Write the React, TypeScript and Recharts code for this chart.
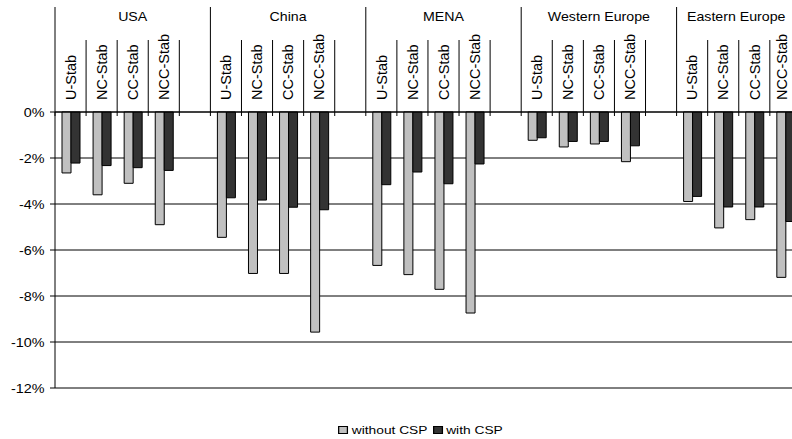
import React from "react"
import { BarChart, Bar, XAxis, YAxis, CartesianGrid, Legend } from "recharts"

const regions = ["USA", "China", "MENA", "Western Europe", "Eastern Europe"]
const scenarios = ["U-Stab", "NC-Stab", "CC-Stab", "NCC-Stab"]

// change in value (%), one row per region, in scenario order
const withoutCsp = [
  [-2.65, -3.6, -3.1, -4.9],
  [-5.45, -7.02, -7.02, -9.57],
  [-6.67, -7.07, -7.71, -8.74],
  [-1.23, -1.52, -1.39, -2.16],
  [-3.89, -5.04, -4.68, -7.19],
]
const withCsp = [
  [-2.22, -2.33, -2.42, -2.54],
  [-3.73, -3.83, -4.14, -4.25],
  [-3.16, -2.61, -3.12, -2.26],
  [-1.12, -1.28, -1.28, -1.47],
  [-3.67, -4.13, -4.13, -4.76],
]
const yTicks = [0, -2, -4, -6, -8, -10, -12]

const series = [
  { key: "without", name: "without CSP", color: "#C0C0C0" },
  { key: "with", name: "with CSP", color: "#333333" },
]

const FONT = "'Liberation Sans', Arial, sans-serif"
const CHART_W = 840
const CHART_H = 439
const Y_AXIS_W = 55
const RIGHT = 8
const AXIS_Y = 112
const VIEW_EDGE = 788
const SLOTS = regions.length * (scenarios.length + 1)
const SLOT_W = (CHART_W - Y_AXIS_W - RIGHT) / SLOTS

// each region gets its four scenarios plus an empty slot
const data = regions.flatMap((region, gi) => [
  ...scenarios.map((scenario, si) => ({
    key: `${region}|${scenario}`,
    region,
    scenario,
    without: withoutCsp[gi][si],
    with: withCsp[gi][si],
  })),
  { key: `${region}|`, region, scenario: "", without: null, with: null },
])

const CategoryTick = ({ x, payload }: any) => {
  const i = payload.index
  const row = data[i]
  if (!row) return null
  const left = x - SLOT_W / 2
  const first = i % (scenarios.length + 1) === 0
  let labelX = left + (SLOT_W * (scenarios.length + 1)) / 2
  const approx = row.region.length * 7.4
  if (labelX + approx / 2 > VIEW_EDGE) labelX = VIEW_EDGE - approx / 2
  // keep the last rotated label inside the visible page
  const textX = Math.min(x + 5.2, VIEW_EDGE - 1)
  return (
    <g>
      <line x1={left} x2={left} y1={first ? 7 : 40} y2={AXIS_Y + 4} stroke="#000" />
      {first && (
        <text
          transform={`translate(${labelX},21) scale(1.05,1)`}
          textAnchor="middle"
          fontFamily={FONT}
          fontSize={13.5}
          fill="#000"
        >
          {row.region}
        </text>
      )}
      {row.scenario && (
        <text
          transform={`translate(${textX},100) rotate(-90)`}
          textAnchor="start"
          fontFamily={FONT}
          fontSize={14.5}
          fill="#000"
        >
          {row.scenario}
        </text>
      )}
    </g>
  )
}

const ValueTick = ({ y, payload }: any) => (
  <text
    transform={`translate(44.5,${y + 4.5}) scale(1.15,1)`}
    textAnchor="end"
    fontFamily={FONT}
    fontSize={12.5}
    fill="#000"
  >
    {`${payload.value}%`}
  </text>
)

const LegendContent = () => (
  <div
    style={{
      height: 51,
      display: "flex",
      justifyContent: "center",
      alignItems: "flex-end",
      paddingLeft: 14,
      paddingBottom: 3,
      boxSizing: "border-box",
    }}
  >
    <div
      style={{
        display: "flex",
        alignItems: "center",
        fontFamily: FONT,
        fontSize: 11,
        transform: "scale(1.25,1)",
      }}
    >
      {series.map((s) => (
        <span key={s.key} style={{ display: "flex", alignItems: "center", marginRight: 4 }}>
          <span
            style={{
              width: 6,
              height: 6,
              border: "1px solid #000",
              background: s.color,
              marginRight: 3,
              display: "inline-block",
            }}
          />
          {s.name}
        </span>
      ))}
    </div>
  </div>
)

export default function App() {
  return (
    <div
      style={{
        position: "fixed",
        left: 0,
        top: 0,
        width: 792,
        height: 439,
        overflow: "hidden",
        background: "#fff",
      }}
    >
      <BarChart
        width={CHART_W}
        height={CHART_H}
        data={data}
        margin={{ top: 0, right: RIGHT, left: 0, bottom: 0 }}
        barSize={9}
        barGap={0}
      >
        <CartesianGrid vertical={false} stroke="#000" />
        <XAxis
          dataKey="key"
          orientation="top"
          height={AXIS_Y}
          interval={0}
          tickLine={false}
          axisLine={{ stroke: "#000" }}
          tick={<CategoryTick />}
        />
        <YAxis
          width={Y_AXIS_W}
          domain={[-12, 0]}
          ticks={yTicks}
          interval={0}
          tickSize={5}
          axisLine={{ stroke: "#000" }}
          tickLine={{ stroke: "#000" }}
          tick={<ValueTick />}
        />
        <Legend verticalAlign="bottom" height={51} content={<LegendContent />} />
        {series.map((s) => (
          <Bar
            key={s.key}
            dataKey={s.key}
            name={s.name}
            fill={s.color}
            stroke="#000"
            isAnimationActive={false}
          />
        ))}
      </BarChart>
    </div>
  )
}
